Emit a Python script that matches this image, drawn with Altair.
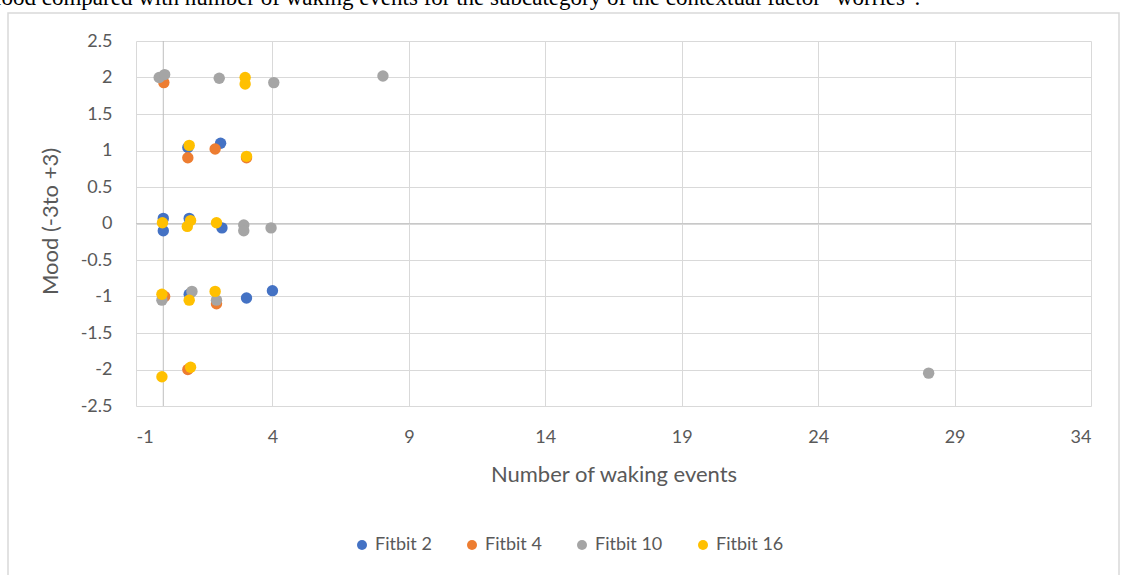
import altair as alt
import pandas as pd

caption = 'Mood compared with number of waking events for the subcategory of the contextual factor "worries".'
series_names = ["Fitbit 2", "Fitbit 4", "Fitbit 10", "Fitbit 16"]
series_colors = ["#4472C4", "#ED7D31", "#A5A5A5", "#FFC000"]

fitbit2_x = [0.0, 0.0, 0.9, 2.1, 0.95, 2.15, 0.95, 3.05, 4.0]
fitbit2_y = [0.07, -0.1, 1.04, 1.1, 0.07, -0.06, -0.97, -1.02, -0.92]

fitbit4_x = [0.02, 0.9, 1.9, 3.05, 0.05, 1.95, 0.9]
fitbit4_y = [1.93, 0.9, 1.02, 0.9, -1.0, -1.1, -2.0]

fitbit10_x = [-0.15, 0.05, 2.05, 4.05, 8.05, 2.95, 2.95, 3.95, -0.05, 1.05, 1.95, 28.05]
fitbit10_y = [2.0, 2.04, 1.99, 1.93, 2.02, -0.02, -0.1, -0.06, -1.05, -0.93, -1.05, -2.05]

fitbit16_x = [3.0, 3.0, 0.95, 3.05, -0.03, 1.0, 0.88, 1.95, -0.05, 0.95, 1.9, -0.05, 1.0]
fitbit16_y = [2.0, 1.91, 1.07, 0.92, 0.01, 0.04, -0.04, 0.01, -0.97, -1.05, -0.93, -2.1, -1.97]

x_ticks = [-1, 4, 9, 14, 19, 24, 29, 34]
y_ticks = [-2.5, -2, -1.5, -1, -0.5, 0, 0.5, 1, 1.5, 2, 2.5]

rows = []
for name, xs, ys in zip(series_names,
                        [fitbit2_x, fitbit4_x, fitbit10_x, fitbit16_x],
                        [fitbit2_y, fitbit4_y, fitbit10_y, fitbit16_y]):
    for xv, yv in zip(xs, ys):
        rows.append({"series": name, "events": xv, "mood": yv})
df = pd.DataFrame(rows)
df["order"] = range(len(df))

FONT = "Lato"
LABEL_COLOR = "#595959"
W, H = 955, 365
PAD_L, PAD_T = 136, 41

x_scale = alt.Scale(domain=[-1, 34], nice=False, zero=False)
y_scale = alt.Scale(domain=[-2.5, 2.5], nice=False, zero=False)

x_axis = alt.Axis(values=x_ticks, title="Number of waking events",
                  grid=True, gridColor="#D9D9D9", domain=False, ticks=False,
                  labelPadding=22, labelExpr="'' + datum.value",
                  labelOverlap=False, labelBound=False,
                  titleY=58, titleBaseline="top")
y_axis = alt.Axis(values=y_ticks, title="Mood (-3to +3)",
                  grid=True, gridColor="#D9D9D9", domain=False, ticks=False,
                  labelPadding=24, labelExpr="'' + datum.value",
                  labelOverlap=False, labelBound=False,
                  titleX=-74, titleY=180)

points = alt.Chart(df).mark_circle(size=130, opacity=1).encode(
    x=alt.X("events:Q", scale=x_scale, axis=x_axis),
    y=alt.Y("mood:Q", scale=y_scale, axis=y_axis),
    color=alt.Color("series:N",
                    scale=alt.Scale(domain=series_names, range=series_colors),
                    legend=alt.Legend(title=None, orient="none", direction="horizontal",
                                      legendX=217, legendY=495, symbolType="circle",
                                      symbolSize=100, symbolStrokeWidth=0,
                                      labelFontSize=18, labelFont=FONT,
                                      labelColor=LABEL_COLOR, labelOffset=4,
                                      columnPadding=31)),
    order=alt.Order("order:Q"),
)

zero_df = pd.DataFrame({"events": [0.0], "mood": [0.0]})
vrule = alt.Chart(zero_df).mark_rule(color="#BFBFBF", strokeWidth=1).encode(
    x=alt.X("events:Q", scale=x_scale, axis=x_axis))
hrule = alt.Chart(zero_df).mark_rule(color="#C8C8C8", strokeWidth=1).encode(
    y=alt.Y("mood:Q", scale=y_scale, axis=y_axis))

border = alt.Chart(zero_df).mark_rect(fill=None, stroke="#D9D9D9", strokeWidth=1.5).encode(
    x=alt.value(8 - PAD_L), x2=alt.value(1119 - PAD_L),
    y=alt.value(13 - PAD_T), y2=alt.value(590 - PAD_T))

cap = alt.Chart(pd.DataFrame({"t": [caption]})).mark_text(
    font="Liberation Serif", fontSize=23, color="black", align="left", baseline="alphabetic"
).encode(text="t:N", x=alt.value(-19 - PAD_L), y=alt.value(5 - PAD_T))

chart = alt.layer(border, vrule, hrule, points, cap).properties(
    width=W, height=H,
    autosize=alt.AutoSizeParams(type="none"),
    padding={"left": PAD_L, "top": PAD_T, "right": 1121 - PAD_L - W, "bottom": 575 - PAD_T - H},
    background="white",
).configure_view(stroke=None).configure_axis(
    labelFont=FONT, labelFontSize=18, labelColor=LABEL_COLOR,
    labelOverlap=False,
    titleFont=FONT, titleFontSize=22, titleColor=LABEL_COLOR, titleFontWeight="normal",
)

chart.save("out.html", embed_options={"renderer": "svg", "actions": False})
